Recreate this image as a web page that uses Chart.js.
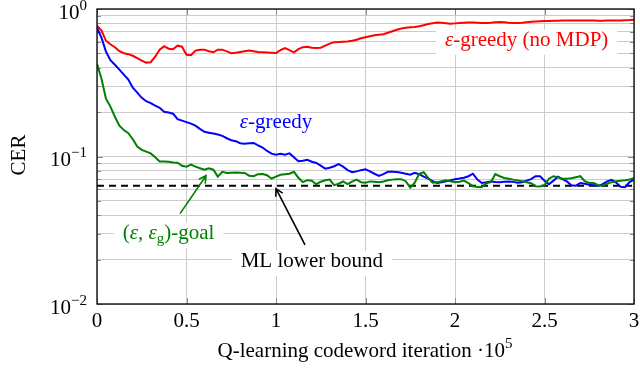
<!DOCTYPE html>
<html lang="en">
<head>
    <meta charset="UTF-8">
    <title>CER vs Q-learning iteration</title>
    <script src="https://cdn.jsdelivr.net/npm/chart.js"></script>
    <style>
        html, body { margin: 0; padding: 0; background: #fff; }
        #wrap { width: 640px; height: 389px; }
    </style>
</head>
<body>
    <div id="wrap"><canvas id="cerChart" width="640" height="389"></canvas></div>

    <script>
        // iteration axis in units of 1e5, one sample every 2500 iterations
        const iterations = Array.from({ length: 121 }, (_, i) => i * 0.025);

        const xTicks = [0, 0.5, 1, 1.5, 2, 2.5, 3];
        const yTicks = [0.01, 0.02, 0.03, 0.04, 0.05, 0.06, 0.07, 0.08, 0.09,
                        0.1, 0.2, 0.3, 0.4, 0.5, 0.6, 0.7, 0.8, 0.9, 1];
        const yTickLabels = { 1: '0', 0.1: '\u22121', 0.01: '\u22122' };

        // epsilon-greedy (no MDP)
        const cerNoMdp = [
            0.770, 0.713, 0.610, 0.577, 0.551, 0.517, 0.501, 0.494, 0.482, 0.464,
            0.446, 0.433, 0.436, 0.475, 0.530, 0.560, 0.538, 0.534, 0.564, 0.555,
            0.490, 0.486, 0.522, 0.530, 0.530, 0.517, 0.509, 0.530, 0.530, 0.516,
            0.501, 0.505, 0.511, 0.517, 0.523, 0.517, 0.511, 0.509, 0.507, 0.505,
            0.503, 0.526, 0.544, 0.526, 0.508, 0.534, 0.551, 0.555, 0.547, 0.544,
            0.547, 0.564, 0.582, 0.596, 0.597, 0.600, 0.603, 0.610, 0.619, 0.634,
            0.644, 0.654, 0.664, 0.670, 0.675, 0.691, 0.707, 0.724, 0.738, 0.747,
            0.753, 0.756, 0.764, 0.777, 0.791, 0.801, 0.811, 0.807, 0.801, 0.795,
            0.799, 0.804, 0.807, 0.811, 0.810, 0.807, 0.805, 0.804, 0.807, 0.812,
            0.816, 0.814, 0.807, 0.804, 0.804, 0.807, 0.814, 0.820, 0.824, 0.827,
            0.829, 0.830, 0.833, 0.833, 0.836, 0.837, 0.837, 0.837, 0.837, 0.837,
            0.837, 0.836, 0.833, 0.833, 0.835, 0.836, 0.837, 0.837, 0.840, 0.842,
            0.846
        ];

        // epsilon-greedy
        const cerGreedy = [
            0.743, 0.639, 0.514, 0.450, 0.419, 0.388, 0.359, 0.332, 0.293, 0.271,
            0.250, 0.237, 0.230, 0.221, 0.214, 0.201, 0.199, 0.195, 0.179, 0.175,
            0.171, 0.167, 0.162, 0.154, 0.147, 0.145, 0.143, 0.141, 0.138, 0.133,
            0.129, 0.127, 0.123, 0.122, 0.123, 0.1235, 0.119, 0.115, 0.109, 0.1045,
            0.103, 0.1045, 0.103, 0.105, 0.0989, 0.0929, 0.0937, 0.0951, 0.0922, 0.0904,
            0.0866, 0.0827, 0.0840, 0.0859, 0.0887, 0.0853, 0.0808, 0.0782, 0.0793, 0.0808,
            0.0818, 0.0793, 0.0764, 0.0738, 0.0759, 0.0788, 0.0788, 0.0785, 0.0777, 0.0764,
            0.0752, 0.0774, 0.0759, 0.0730, 0.0707, 0.0680, 0.0661, 0.0670, 0.0678, 0.0691,
            0.0702, 0.0709, 0.0718, 0.0735, 0.0764, 0.0697, 0.0661, 0.0668, 0.0678, 0.0672,
            0.0668, 0.0675, 0.0678, 0.0673, 0.0665, 0.0670, 0.0686, 0.0702, 0.0735, 0.0735,
            0.0686, 0.0649, 0.0686, 0.0730, 0.0702, 0.0678, 0.0639, 0.0634, 0.0661, 0.0654,
            0.0644, 0.0639, 0.0631, 0.0649, 0.0678, 0.0694, 0.0665, 0.0624, 0.0620, 0.0670,
            0.0697
        ];

        // (epsilon, epsilon_g)-goal
        const cerGoal = [
            0.426, 0.337, 0.2465, 0.218, 0.186, 0.162, 0.151, 0.144, 0.131, 0.117,
            0.111, 0.108, 0.105, 0.0989, 0.0926, 0.0926, 0.0922, 0.0912, 0.0908, 0.0866,
            0.0853, 0.0880, 0.0853, 0.0833, 0.0814, 0.0833, 0.0814, 0.0730, 0.0788, 0.0773,
            0.0777, 0.0780, 0.0777, 0.0773, 0.0741, 0.0735, 0.0759, 0.0761, 0.0746, 0.0707,
            0.0730, 0.0752, 0.0759, 0.0764, 0.0788, 0.0718, 0.0670, 0.0691, 0.0686, 0.0649,
            0.0675, 0.0691, 0.0697, 0.0639, 0.0654, 0.0677, 0.0649, 0.0675, 0.0697, 0.0670,
            0.0665, 0.0678, 0.0673, 0.0668, 0.0677, 0.0691, 0.0697, 0.0702, 0.0702, 0.0680,
            0.0615, 0.0665, 0.0764, 0.0782, 0.0715, 0.0665, 0.0670, 0.0680, 0.0689, 0.0680,
            0.0670, 0.0675, 0.0686, 0.0659, 0.0629, 0.0620, 0.0620, 0.0659, 0.0670, 0.0759,
            0.0735, 0.0715, 0.0707, 0.0697, 0.0689, 0.0680, 0.0670, 0.0659, 0.0629, 0.0627,
            0.0639, 0.0707, 0.0735, 0.0724, 0.0707, 0.0707, 0.0713, 0.0724, 0.0735, 0.0680,
            0.0661, 0.0661, 0.0639, 0.0634, 0.0654, 0.0670, 0.0680, 0.0686, 0.0691, 0.0698,
            0.0713
        ];

        const mlBound = 0.0634;

        const FONT = '"Liberation Serif", "Times New Roman", serif';
        const FS = 21;
        const GREEN = 'rgb(0,128,0)';

        // text labels, positions in data units (x in 1e5, y in CER)
        const labels = [
            { x: 2.40, y: 0.564, color: '#ff0000', parts: [['\u03b5', 'i'], ['-greedy (no MDP)', '']] },
            { x: 1.00, y: 0.156, color: '#0000ff', parts: [['\u03b5', 'i'], ['-greedy', '']], box: false },
            { x: 0.40, y: 0.0276, color: GREEN, parts: [['(', ''], ['\u03b5', 'i'], [', ', ''], ['\u03b5', 'i'], ['g', 'sub'], [')-goal', '']] },
            { x: 1.20, y: 0.0178, color: '#000', parts: [['ML lower bound', '']] }
        ];
        const arrows = [
            { from: [0.464, 0.041], to: [0.609, 0.0741], color: GREEN },
            { from: [1.162, 0.0252], to: [1.0, 0.0605], color: '#000' }
        ];

        function partFont(s) {
            const size = (s === 'sub' || s === 'sup') ? Math.round(FS * 0.7) : FS;
            return (s === 'i' ? 'italic ' : '') + size + 'px ' + FONT;
        }
        function richWidth(ctx, parts) {
            let w = 0;
            parts.forEach(p => { ctx.font = partFont(p[1]); w += ctx.measureText(p[0]).width; });
            return w;
        }
        function drawRich(ctx, parts, x, y, align, color) {
            const w = richWidth(ctx, parts);
            let cx = align === 'center' ? x - w / 2 : (align === 'right' ? x - w : x);
            ctx.fillStyle = color;
            ctx.textAlign = 'left';
            ctx.textBaseline = 'alphabetic';
            parts.forEach(p => {
                ctx.font = partFont(p[1]);
                const dy = p[1] === 'sub' ? 4 : (p[1] === 'sup' ? -9 : 0);
                ctx.fillText(p[0], cx, y + dy);
                cx += ctx.measureText(p[0]).width;
            });
            return w;
        }

        const decorations = {
            id: 'decorations',
            beforeDatasetsDraw(chart) {
                const ctx = chart.ctx, a = chart.chartArea;
                const xs = chart.scales.x, ys = chart.scales.y;
                ctx.save();
                // tick marks on all four sides
                ctx.strokeStyle = '#8c8c8c';
                ctx.lineWidth = 1;
                ctx.beginPath();
                yTicks.forEach(v => {
                    const py = Math.round(ys.getPixelForValue(v)) + 0.5;
                    const len = yTickLabels[v] ? 6 : 4;
                    ctx.moveTo(a.left, py); ctx.lineTo(a.left + len, py);
                    ctx.moveTo(a.right, py); ctx.lineTo(a.right - len, py);
                });
                xTicks.forEach(v => {
                    const px = Math.round(xs.getPixelForValue(v)) + 0.5;
                    ctx.moveTo(px, a.top); ctx.lineTo(px, a.top + 6);
                    ctx.moveTo(px, a.bottom); ctx.lineTo(px, a.bottom - 6);
                });
                ctx.stroke();
                // labels with white boxes
                labels.forEach(l => {
                    const px = xs.getPixelForValue(l.x), py = ys.getPixelForValue(l.y);
                    const w = richWidth(ctx, l.parts);
                    if (l.box !== false) {
                        ctx.fillStyle = '#fff';
                        ctx.fillRect(px - w / 2 - 9, py - 16, w + 18, 25);
                    }
                    drawRich(ctx, l.parts, px, py, 'center', l.color);
                });
                ctx.restore();
            },
            afterDatasetsDraw(chart) {
                const ctx = chart.ctx;
                const xs = chart.scales.x, ys = chart.scales.y;
                ctx.save();
                ctx.lineWidth = 1.6;
                arrows.forEach(ar => {
                    const x0 = xs.getPixelForValue(ar.from[0]), y0 = ys.getPixelForValue(ar.from[1]);
                    const x1 = xs.getPixelForValue(ar.to[0]), y1 = ys.getPixelForValue(ar.to[1]);
                    const ang = Math.atan2(y1 - y0, x1 - x0);
                    ctx.strokeStyle = ar.color;
                    ctx.beginPath();
                    ctx.moveTo(x0, y0); ctx.lineTo(x1, y1);
                    ctx.moveTo(x1 - 8 * Math.cos(ang - 0.5), y1 - 8 * Math.sin(ang - 0.5));
                    ctx.lineTo(x1, y1);
                    ctx.lineTo(x1 - 8 * Math.cos(ang + 0.5), y1 - 8 * Math.sin(ang + 0.5));
                    ctx.stroke();
                });
                ctx.restore();
            },
            afterDraw(chart) {
                const ctx = chart.ctx, a = chart.chartArea;
                const ys = chart.scales.y;
                ctx.save();
                ctx.strokeStyle = '#000';
                ctx.lineWidth = 1.3;
                ctx.strokeRect(a.left, a.top, a.right - a.left, a.bottom - a.top);
                // y tick labels 10^k
                Object.keys(yTickLabels).forEach(k => {
                    const py = ys.getPixelForValue(Number(k));
                    drawRich(ctx, [['10', ''], [yTickLabels[k], 'sup']], 87, py + 9.5, 'right', '#000');
                });
                // axis titles
                drawRich(ctx, [['Q-learning codeword iteration \u00b710', ''], ['5', 'sup']], 365, 357, 'center', '#000');
                ctx.translate(25, 155);
                ctx.rotate(-Math.PI / 2);
                drawRich(ctx, [['CER', '']], 0, 0, 'center', '#000');
                ctx.restore();
            }
        };

        const series = values => iterations.map((x, i) => ({ x: x, y: values[i] }));

        const config = {
            type: 'line',
            data: {
                datasets: [
                    { label: '(\u03b5, \u03b5g)-goal', data: series(cerGoal), borderColor: GREEN },
                    { label: '\u03b5-greedy', data: series(cerGreedy), borderColor: '#0000ff' },
                    { label: '\u03b5-greedy (no MDP)', data: series(cerNoMdp), borderColor: '#ff0000' },
                    {
                        label: 'ML lower bound',
                        data: [{ x: 0, y: mlBound }, { x: 3, y: mlBound }],
                        borderColor: '#000', borderDash: [7, 5]
                    }
                ]
            },
            options: {
                responsive: false,
                animation: false,
                layout: { padding: { left: 0, right: 6, top: 9, bottom: 0 } },
                elements: {
                    line: { borderWidth: 2, tension: 0, fill: false },
                    point: { radius: 0 }
                },
                plugins: { legend: { display: false }, tooltip: { enabled: false } },
                scales: {
                    x: {
                        type: 'linear', min: 0, max: 3,
                        afterBuildTicks: s => { s.ticks = xTicks.map(v => ({ value: v })); },
                        afterFit: s => { s.height = 85; s.paddingLeft = 0; s.paddingRight = 0; },
                        grid: { color: '#cccccc', lineWidth: 1, drawTicks: false },
                        border: { display: false },
                        ticks: {
                            padding: 5, color: '#000',
                            font: { family: FONT, size: FS },
                            callback: v => String(v)
                        }
                    },
                    y: {
                        type: 'logarithmic', min: 0.01, max: 1,
                        afterBuildTicks: s => { s.ticks = yTicks.map(v => ({ value: v })); },
                        afterFit: s => { s.width = 97; s.paddingTop = 0; s.paddingBottom = 0; },
                        grid: { color: '#cccccc', lineWidth: 1, drawTicks: false },
                        border: { display: false },
                        ticks: { display: false }
                    }
                }
            },
            plugins: [decorations]
        };

        new Chart(document.getElementById('cerChart'), config);
    </script>
</body>
</html>
